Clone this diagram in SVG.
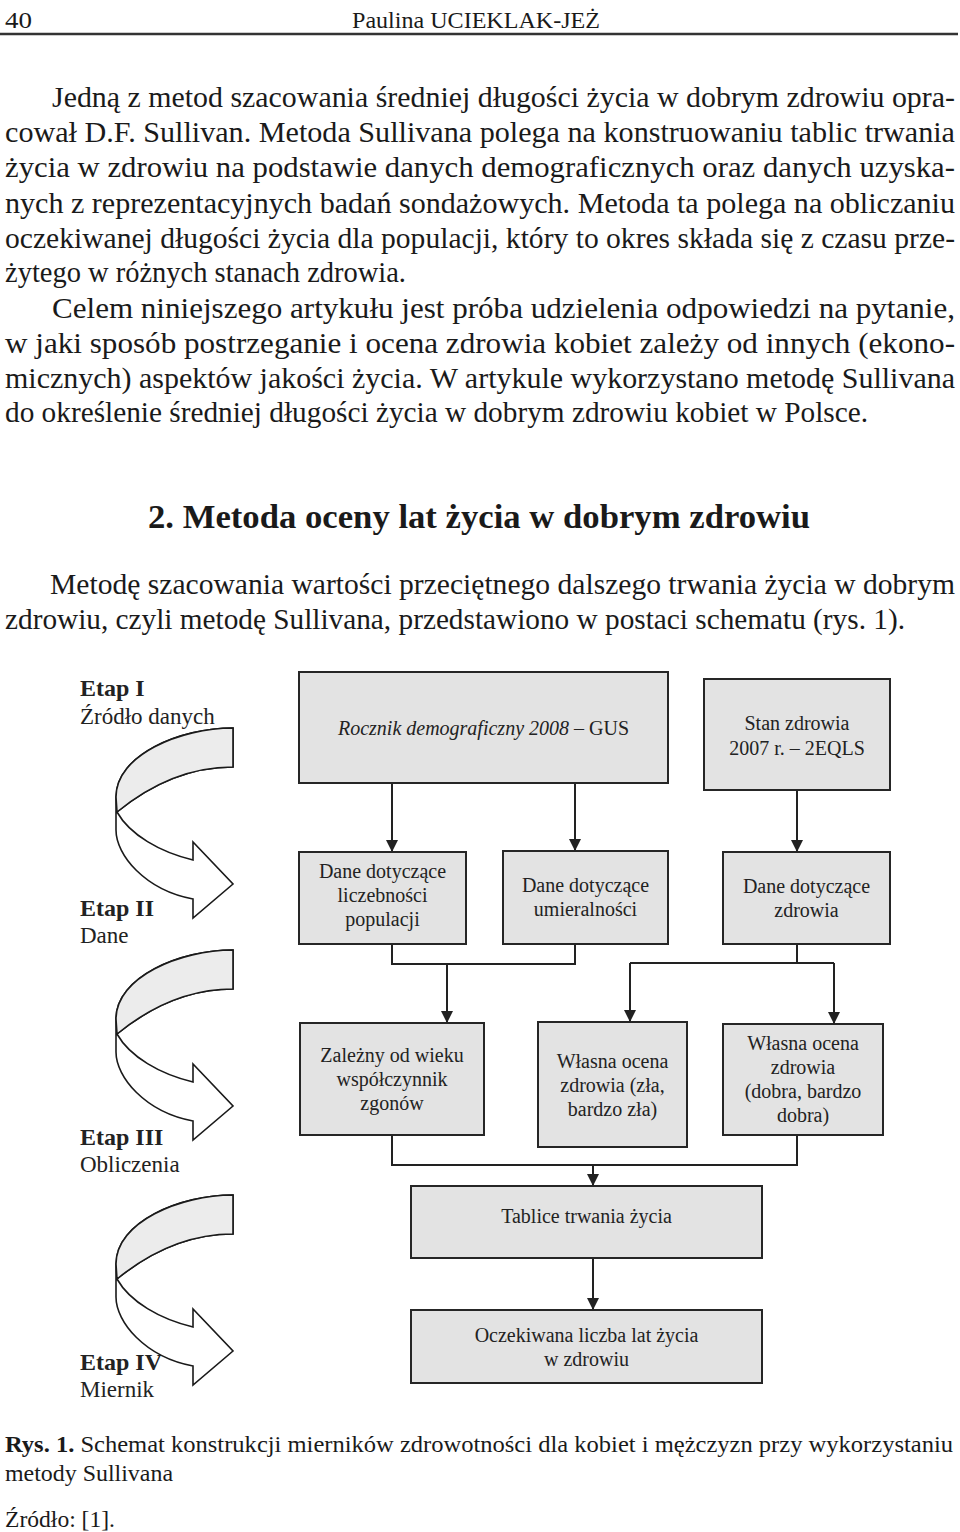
<svg xmlns="http://www.w3.org/2000/svg" width="960" height="1532" viewBox="0 0 960 1532">
<style>
 .t{font-family:"Liberation Serif","Times New Roman",serif;fill:#1a1a1a}
 .body{font-size:29px}
 .hdr{font-size:24px}
 .h2{font-size:34px;font-weight:bold}
 .cap{font-size:24px}
 .box rect{fill:#e3e3e3;stroke:#262626;stroke-width:2}
 .bt{font-family:"Liberation Serif","Times New Roman",serif;font-size:20px;fill:#222;text-anchor:middle}
 .lbl{font-family:"Liberation Serif","Times New Roman",serif;font-size:23px;fill:#222}
 .lblb{font-weight:bold;font-size:24px}
 .conn path{fill:none;stroke:#222;stroke-width:2}
 .rib-out{fill:#fff;stroke:#1a1a1a;stroke-width:1.6;stroke-linejoin:miter}
 .rib-in{fill:#ececec;stroke:#1a1a1a;stroke-width:1.6}
</style>
<defs>
 <marker id="ah" viewBox="0 0 12 12" refX="12" refY="6" markerWidth="12" markerHeight="12" markerUnits="userSpaceOnUse" orient="auto"><path d="M0,0 L12,6 L0,12 Z" fill="#222"/></marker>
 <g id="rib">
  <path class="rib-out" d="M233,728 C180,728 116,755 116,797 L116,830 C116,855 145,890 193,899 L193,918 L233,884 L193,842 L193,860 C160,852 130,835 117,812 C150,785 190,767 233,767 Z"/>
  <path class="rib-in" d="M233,728 C180,728 116,755 116,797 L117,812 C150,785 190,767 233,767 Z"/>
 </g>
</defs>
<rect width="960" height="1532" fill="#fff"/>

<g id="header">
 <text class="t hdr" x="5" y="28" textLength="27" lengthAdjust="spacingAndGlyphs">40</text>
 <text class="t hdr" x="352" y="28" textLength="248" lengthAdjust="spacingAndGlyphs">Paulina UCIEKLAK-JEŻ</text>
 <line x1="0" y1="34" x2="958" y2="34" stroke="#333" stroke-width="2.5"/>
</g>

<g id="intro">
 <text class="t body" x="52" y="107" textLength="903" lengthAdjust="spacingAndGlyphs">Jedną z metod szacowania średniej długości życia w dobrym zdrowiu opra-</text>
 <text class="t body" x="5" y="142" textLength="950" lengthAdjust="spacingAndGlyphs">cował D.F. Sullivan. Metoda Sullivana polega na konstruowaniu tablic trwania</text>
 <text class="t body" x="5" y="177" textLength="950" lengthAdjust="spacingAndGlyphs">życia w zdrowiu na podstawie danych demograficznych oraz danych uzyska-</text>
 <text class="t body" x="5" y="213" textLength="950" lengthAdjust="spacingAndGlyphs">nych z reprezentacyjnych badań sondażowych. Metoda ta polega na obliczaniu</text>
 <text class="t body" x="5" y="248" textLength="950" lengthAdjust="spacingAndGlyphs">oczekiwanej długości życia dla populacji, który to okres składa się z czasu prze-</text>
 <text class="t body" x="5" y="282" textLength="401" lengthAdjust="spacingAndGlyphs">żytego w różnych stanach zdrowia.</text>
 <text class="t body" x="52" y="318" textLength="903" lengthAdjust="spacingAndGlyphs">Celem niniejszego artykułu jest próba udzielenia odpowiedzi na pytanie,</text>
 <text class="t body" x="5" y="353" textLength="950" lengthAdjust="spacingAndGlyphs">w jaki sposób postrzeganie i ocena zdrowia kobiet zależy od innych (ekono-</text>
 <text class="t body" x="5" y="388" textLength="950" lengthAdjust="spacingAndGlyphs">micznych) aspektów jakości życia. W artykule wykorzystano metodę Sullivana</text>
 <text class="t body" x="5" y="422" textLength="863" lengthAdjust="spacingAndGlyphs">do określenie średniej długości życia w dobrym zdrowiu kobiet w Polsce.</text>
</g>

<g id="section">
 <text class="t h2" x="148" y="528" textLength="662" lengthAdjust="spacingAndGlyphs">2. Metoda oceny lat życia w dobrym zdrowiu</text>
 <text class="t body" x="50" y="594" textLength="905" lengthAdjust="spacingAndGlyphs">Metodę szacowania wartości przeciętnego dalszego trwania życia w dobrym</text>
 <text class="t body" x="5" y="629" textLength="900" lengthAdjust="spacingAndGlyphs">zdrowiu, czyli metodę Sullivana, przedstawiono w postaci schematu (rys. 1).</text>
</g>

<g id="stage-ribbons">
 <g id="ribbon1"><use href="#rib"/></g>
 <g id="ribbon2"><use href="#rib" transform="translate(0,222)"/></g>
 <g id="ribbon3"><use href="#rib" transform="translate(0,467)"/></g>
</g>

<g id="stage-labels">
 <g id="etap1"><text class="lbl lblb" x="80" y="696">Etap I</text><text class="lbl" x="80" y="724">Źródło danych</text></g>
 <g id="etap2"><text class="lbl lblb" x="80" y="916">Etap II</text><text class="lbl" x="80" y="943">Dane</text></g>
 <g id="etap3"><text class="lbl lblb" x="80" y="1145">Etap III</text><text class="lbl" x="80" y="1172">Obliczenia</text></g>
 <g id="etap4"><text class="lbl lblb" x="80" y="1370">Etap IV</text><text class="lbl" x="80" y="1397">Miernik</text></g>
</g>

<g id="connectors" class="conn">
 <path d="M392,783 V852" marker-end="url(#ah)"/>
 <path d="M575,783 V851" marker-end="url(#ah)"/>
 <path d="M797,790 V852" marker-end="url(#ah)"/>
 <path d="M392,944 V964 H575 V944"/>
 <path d="M447,964 V1023" marker-end="url(#ah)"/>
 <path d="M797,944 V963"/>
 <path d="M630,963 H834"/>
 <path d="M630,963 V1022" marker-end="url(#ah)"/>
 <path d="M834,963 V1024" marker-end="url(#ah)"/>
 <path d="M392,1135 V1165 H797 V1135"/>
 <path d="M593,1165 V1186" marker-end="url(#ah)"/>
 <path d="M593,1258 V1310" marker-end="url(#ah)"/>
</g>

<g id="n-rocznik" class="box">
 <rect x="299" y="672" width="369" height="111"/>
 <text class="bt" x="483.5" y="735"><tspan font-style="italic">Rocznik demograficzny 2008</tspan> – GUS</text>
</g>
<g id="n-stan" class="box">
 <rect x="704" y="679" width="186" height="111"/>
 <text class="bt" x="797" y="730">Stan zdrowia</text>
 <text class="bt" x="797" y="755">2007 r. – 2EQLS</text>
</g>
<g id="n-liczebnosc" class="box">
 <rect x="299" y="852" width="167" height="92"/>
 <text class="bt" x="382.5" y="878">Dane dotyczące</text>
 <text class="bt" x="382.5" y="902">liczebności</text>
 <text class="bt" x="382.5" y="926">populacji</text>
</g>
<g id="n-umieralnosc" class="box">
 <rect x="503" y="851" width="165" height="93"/>
 <text class="bt" x="585.5" y="892">Dane dotyczące</text>
 <text class="bt" x="585.5" y="916">umieralności</text>
</g>
<g id="n-zdrowie" class="box">
 <rect x="723" y="852" width="167" height="92"/>
 <text class="bt" x="806.5" y="893">Dane dotyczące</text>
 <text class="bt" x="806.5" y="917">zdrowia</text>
</g>
<g id="n-zgony" class="box">
 <rect x="300" y="1023" width="184" height="112"/>
 <text class="bt" x="392" y="1062">Zależny od wieku</text>
 <text class="bt" x="392" y="1086">współczynnik</text>
 <text class="bt" x="392" y="1110">zgonów</text>
</g>
<g id="n-ocena-zla" class="box">
 <rect x="538" y="1022" width="149" height="125"/>
 <text class="bt" x="612.5" y="1068">Własna ocena</text>
 <text class="bt" x="612.5" y="1092">zdrowia (zła,</text>
 <text class="bt" x="612.5" y="1116">bardzo zła)</text>
</g>
<g id="n-ocena-dobra" class="box">
 <rect x="723" y="1024" width="160" height="111"/>
 <text class="bt" x="803" y="1050">Własna ocena</text>
 <text class="bt" x="803" y="1074">zdrowia</text>
 <text class="bt" x="803" y="1098">(dobra, bardzo</text>
 <text class="bt" x="803" y="1122">dobra)</text>
</g>
<g id="n-tablice" class="box">
 <rect x="411" y="1186" width="351" height="72"/>
 <text class="bt" x="586.5" y="1223">Tablice trwania życia</text>
</g>
<g id="n-oczekiwana" class="box">
 <rect x="411" y="1310" width="351" height="73"/>
 <text class="bt" x="586.5" y="1342">Oczekiwana liczba lat życia</text>
 <text class="bt" x="586.5" y="1366">w zdrowiu</text>
</g>

<g id="caption">
 <text class="t cap" x="5" y="1452" textLength="948" lengthAdjust="spacingAndGlyphs"><tspan font-weight="bold">Rys. 1.</tspan> Schemat konstrukcji mierników zdrowotności dla kobiet i mężczyzn przy wykorzystaniu</text>
 <text class="t cap" x="5" y="1481" textLength="168" lengthAdjust="spacingAndGlyphs">metody Sullivana</text>
 <text class="t cap" x="5" y="1527" textLength="110" lengthAdjust="spacingAndGlyphs">Źródło: [1].</text>
</g>
</svg>
